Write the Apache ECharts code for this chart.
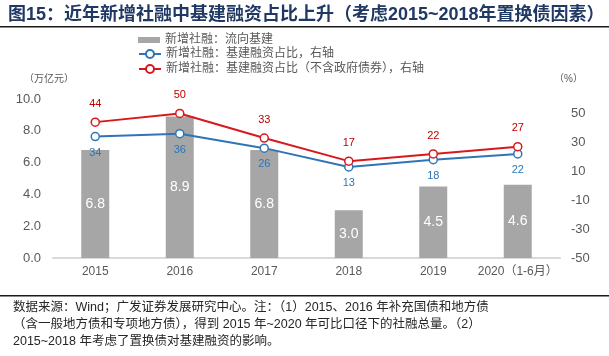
<!DOCTYPE html>
<html><head><meta charset="utf-8">
<script src="https://cdn.jsdelivr.net/npm/echarts@6/dist/echarts.min.js"></script>
<style>html,body{margin:0;padding:0;background:#fff}#c{width:609px;height:356px}</style>
</head><body><div id="c"></div>
<script>
const categories = ['2015','2016','2017','2018','2019','2020（1-6月）'];
const barValues = [6.8, 8.9, 6.8, 3.0, 4.5, 4.6];
const blueValues = [34, 36, 26, 13, 18, 22];
const redValues = [44, 50, 33, 17, 22, 27];
const leftTicks = [0, 2, 4, 6, 8, 10];
const rightTicks = [-50, -30, -10, 10, 30, 50];
const names = ['新增社融：流向基建','新增社融：基建融资占比，右轴','新增社融：基建融资占比（不含政府债券），右轴'];

const FF = '"Liberation Sans", Arial, "Noto Sans CJK SC", sans-serif';
const chart = echarts.init(document.getElementById('c'));
chart.setOption({
  animation: false,
  textStyle: {fontFamily: FF},
  grid: {left: 53, right: 49, top: 99, bottom: 98},
  legend: [{
    left: 133, top: 29, itemWidth: 22, itemHeight: 6, icon: 'rect',
    data: [names[0]],
    textStyle: {fontSize: 12, color: '#595959', fontFamily: FF}
  },{
    left: 133, top: 43, orient: 'vertical', itemGap: 3, itemWidth: 22, itemHeight: 10,
    data: [names[1], names[2]],
    textStyle: {fontSize: 12, color: '#595959', fontFamily: FF}
  }],
  xAxis: {
    type: 'category', data: categories,
    axisLine: {lineStyle: {color: '#d9d9d9', width: 2}},
    axisTick: {show: false},
    axisLabel: {color: '#595959', fontSize: 12, margin: 8, interval: 0}
  },
  yAxis: [{
    type: 'value', min: 0, max: 10, interval: 2,
    splitLine: {show: false}, axisLine: {show: false}, axisTick: {show: false},
    axisLabel: {color: '#595959', fontSize: 13, formatter: v => v.toFixed(1), margin: 12}
  },{
    type: 'value', min: -50, max: 60, interval: 20,
    splitLine: {show: false}, axisLine: {show: false}, axisTick: {show: false},
    axisLabel: {color: '#595959', fontSize: 13, margin: 11, showMaxLabel: false,
      formatter: v => rightTicks.includes(v) ? String(v) : ''}
  }],
  series: [{
    name: names[0], type: 'bar', data: barValues, barWidth: 28,
    itemStyle: {color: '#a6a6a6'},
    label: {show: true, position: 'inside', color: '#fff', fontSize: 14, formatter: p => p.value.toFixed(1)}
  },{
    name: names[1], type: 'line', yAxisIndex: 1, data: blueValues,
    symbol: 'circle', symbolSize: 8,
    lineStyle: {color: '#2e75b6', width: 2},
    itemStyle: {color: '#fff', borderColor: '#2e75b6', borderWidth: 1.5},
    label: {show: true, position: 'bottom', distance: 6, color: '#2e75b6', fontSize: 11}
  },{
    name: names[2], type: 'line', yAxisIndex: 1, data: redValues,
    symbol: 'circle', symbolSize: 8,
    lineStyle: {color: '#d7191c', width: 2},
    itemStyle: {color: '#fff', borderColor: '#d7191c', borderWidth: 1.5},
    label: {show: true, position: 'top', distance: 8, color: '#c00000', fontSize: 11}
  }],
  graphic: [
    {type: 'text', left: 8, top: 6, style: {text: '图15：近年新增社融中基建融资占比上升（考虑2015~2018年置换债因素）', font: 'bold 18px ' + FF, fill: '#1f3864'}},
    {type: 'rect', shape: {x: 0, y: 26, width: 609, height: 1.5}, style: {fill: '#1a1a1a'}},
    {type: 'text', left: 24, top: 74, style: {text: '（万亿元）', font: '10px ' + FF, fill: '#595959'}},
    {type: 'text', left: 554, top: 74, style: {text: '（%）', font: '10px ' + FF, fill: '#595959'}},
    {type: 'rect', shape: {x: 0, y: 295, width: 609, height: 1.5}, style: {fill: '#1a1a1a'}},
    {type: 'text', left: 13, top: 301, style: {text: '数据来源：Wind；广发证券发展研究中心。注：（1）2015、2016 年补充国债和地方债', font: '12.5px ' + FF, fill: '#262626'}},
    {type: 'text', left: 13, top: 318, style: {text: '（含一般地方债和专项地方债），得到 2015 年~2020 年可比口径下的社融总量。（2）', font: '12.5px ' + FF, fill: '#262626'}},
    {type: 'text', left: 13, top: 335, style: {text: '2015~2018 年考虑了置换债对基建融资的影响。', font: '12.5px ' + FF, fill: '#262626'}}
  ]
});
</script></body></html>
